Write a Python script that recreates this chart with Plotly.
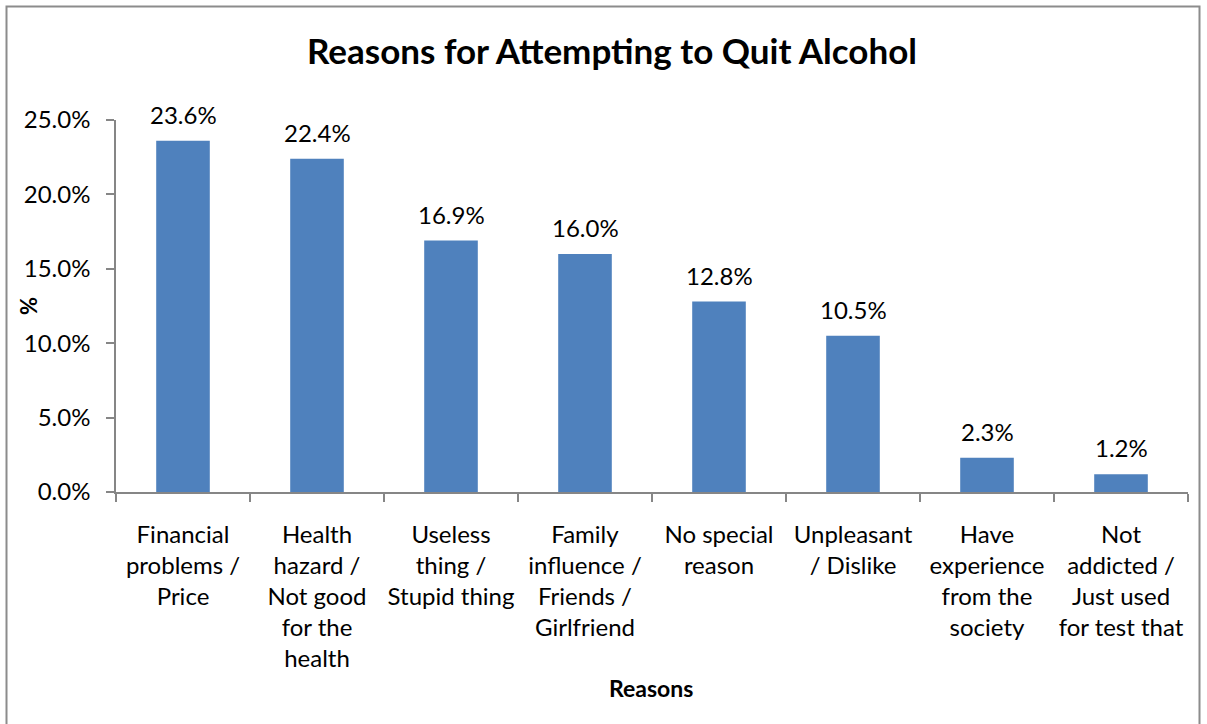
import plotly.graph_objects as go

categories = [
    "Financial<br>problems /<br>Price",
    "Health<br>hazard /<br>Not good<br>for the<br>health",
    "Useless<br>thing /<br>Stupid thing",
    "Family<br>influence /<br>Friends /<br>Girlfriend",
    "No special<br>reason",
    "Unpleasant<br>/ Dislike",
    "Have<br>experience<br>from the<br>society",
    "Not<br>addicted /<br>Just used<br>for test that",
]
values = [23.6, 22.4, 16.9, 16.0, 12.8, 10.5, 2.3, 1.2]
value_labels = ["23.6%", "22.4%", "16.9%", "16.0%", "12.8%", "10.5%", "2.3%", "1.2%"]
y_tickvals = [0, 5, 10, 15, 20, 25]
y_ticktext = ["0.0%", "5.0%", "10.0%", "15.0%", "20.0%", "25.0%"]

FONT = "Lato, Carlito, Calibri, sans-serif"
AXIS = "#868686"
W, H = 1207, 724
L, R, T, B = 116, 19, 120, 232
pw, ph = W - L - R, H - T - B

def px_x(p):
    return (p - L) / pw

def px_y(p):
    return (H - B - p) / ph

fig = go.Figure()
fig.add_trace(go.Bar(
    x=categories, y=values,
    marker=dict(color="#4F81BD", line=dict(width=0)),
    hoverinfo="skip",
))
for c, v, t in zip(categories, values, value_labels):
    fig.add_annotation(x=c, y=v, text=t, showarrow=False, yanchor="bottom",
                       yshift=10, font=dict(family=FONT, size=24, color="#000"))

fig.add_annotation(xref="paper", yref="paper", x=px_x(28), y=px_y(306), text="<b>%</b>",
                   xanchor="center", yanchor="middle",
                   textangle=-90, showarrow=False, font=dict(family=FONT, size=22, color="#000"))
fig.add_annotation(xref="paper", yref="paper", x=px_x(651), y=px_y(688), text="<b>Reasons</b>",
                   xanchor="center", yanchor="middle",
                   showarrow=False, font=dict(family=FONT, size=23, color="#000"))

fig.add_shape(type="rect", xref="paper", yref="paper",
              x0=px_x(6.5), x1=px_x(1199.5), y0=px_y(760), y1=px_y(6.5),
              line=dict(color="#8C8C8C", width=2), fillcolor="rgba(0,0,0,0)", layer="below")

fig.update_layout(
    width=W, height=H,
    margin=dict(l=L, r=R, t=T, b=B, autoexpand=False),
    paper_bgcolor="white", plot_bgcolor="white",
    bargap=0.6,
    showlegend=False,
    title=dict(text="<b>Reasons for Attempting to Quit Alcohol</b>", x=612 / W, xref="container",
               xanchor="center", y=1 - 52 / H, yanchor="middle",
               font=dict(family=FONT, size=35, color="#000")),
    font=dict(family=FONT, size=24, color="#000"),
)
fig.update_xaxes(
    showline=True, linecolor=AXIS, linewidth=1.5,
    ticks="outside", tickson="boundaries", ticklen=8, tickcolor=AXIS, tickwidth=1.5,
    showgrid=False, tickfont=dict(family=FONT, size=24, color="#000"),
    tickangle=0, ticklabelstandoff=20, automargin=False,
)
fig.update_yaxes(
    range=[0, 25], tickvals=y_tickvals, ticktext=y_ticktext,
    showline=True, linecolor=AXIS, linewidth=1.5,
    ticks="outside", ticklen=8, tickcolor=AXIS, tickwidth=1.5,
    showgrid=False, zeroline=False, tickfont=dict(family=FONT, size=24, color="#000"),
    ticklabelstandoff=11, automargin=False,
)

fig.write_html("out.html", config={"displayModeBar": False},
               post_script="document.body.style.margin='0';document.body.style.overflow='hidden';")
